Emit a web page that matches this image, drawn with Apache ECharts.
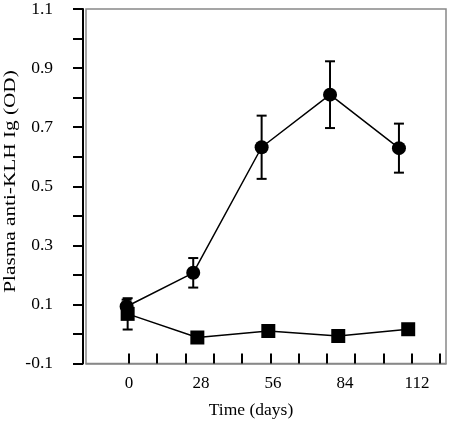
<!DOCTYPE html>
<html>
<head>
<meta charset="utf-8">
<script src="https://cdn.jsdelivr.net/npm/echarts@6/dist/echarts.min.js"></script>
<style>
html,body{margin:0;padding:0;background:#fff;}
#chart{width:452px;height:422px;}
</style>
</head>
<body>
<div id="chart"></div>
<script>
// Data
var circleDays = [-0.9, 25.0, 51.6, 78.2, 105.0];
var circleValues = [0.093, 0.207, 0.632, 0.810, 0.629];
var circleErrors = [0.023, 0.050, 0.107, 0.113, 0.083];

var squareDays = [-0.5, 26.6, 54.2, 81.4, 108.6];
var squareValues = [0.068, -0.012, 0.010, -0.007, 0.016];
var squareErrors = [0.053, 0.015, 0.015, 0.015, 0.015];

var xLabelValues = [0, 28, 56, 84, 112];
var xTickValues = [0, 11, 22, 33, 44, 55, 66, 77, 88, 99, 110, 121];

var FONT = '"Liberation Serif", "Times New Roman", serif';

function pairs(xs, ys) {
  return xs.map(function (x, i) { return [x, ys[i]]; });
}
function errData(xs, ys, es) {
  return xs.map(function (x, i) { return [x, ys[i] - es[i], ys[i] + es[i]]; });
}
function renderErr(params, api) {
  var x = api.value(0);
  var lo = api.coord([x, api.value(1)]);
  var hi = api.coord([x, api.value(2)]);
  var hw = 5;
  var st = { stroke: '#000', lineWidth: 2 };
  return {
    type: 'group',
    children: [
      { type: 'line', shape: { x1: lo[0], y1: lo[1], x2: hi[0], y2: hi[1] }, style: st },
      { type: 'line', shape: { x1: lo[0] - hw, y1: lo[1], x2: lo[0] + hw, y2: lo[1] }, style: st },
      { type: 'line', shape: { x1: hi[0] - hw, y1: hi[1], x2: hi[0] + hw, y2: hi[1] }, style: st }
    ]
  };
}

var chart = echarts.init(document.getElementById('chart'), null, { renderer: 'canvas' });
chart.setOption({
  animation: false,
  backgroundColor: '#fff',
  grid: {
    left: 86, right: 6, top: 4, bottom: 58.5,
    show: true, borderColor: '#888', borderWidth: 1.5, backgroundColor: 'transparent'
  },
  xAxis: {
    type: 'value',
    position: 'bottom',
    min: -16.7, max: 123.3,
    axisLine: { show: true, onZero: false, lineStyle: { color: '#888', width: 1.5 } },
    axisTick: { show: true, inside: true, length: 10, lineStyle: { color: '#000', width: 2 }, customValues: xTickValues },
    axisLabel: { customValues: xLabelValues, margin: 12, color: '#000', fontFamily: FONT, fontSize: 17 },
    splitLine: { show: false }
  },
  yAxis: {
    type: 'value',
    position: 'left',
    min: -0.1, max: 1.1, interval: 0.1,
    offset: 3,
    axisLine: { show: true, onZero: false, lineStyle: { color: '#000', width: 2 } },
    axisTick: { show: true, inside: false, length: 10, lineStyle: { color: '#000', width: 2 } },
    axisLabel: {
      margin: 30, color: '#000', fontFamily: FONT, fontSize: 17.5,
      padding: [8, 0, 0, 0],
      formatter: function (v) {
        var k = Math.round(v * 10);
        return Math.abs(k) % 2 === 1 ? (k / 10).toFixed(1) : '';
      }
    },
    splitLine: { show: false }
  },
  graphic: [
    {
      type: 'text', x: 11, y: 181.5, rotation: Math.PI / 2, scaleX: 1.25,
      style: { text: 'Plasma anti-KLH Ig (OD)', fontFamily: FONT, fontSize: 17, fill: '#000', align: 'center', verticalAlign: 'middle' }
    },
    {
      type: 'text', x: 251, y: 410,
      style: { text: 'Time (days)', fontFamily: FONT, fontSize: 17.5, fill: '#000', align: 'center', verticalAlign: 'middle' }
    }
  ],
  series: [
    {
      type: 'custom', renderItem: renderErr, data: errData(squareDays, squareValues, squareErrors),
      encode: { x: 0, y: [1, 2] }, z: 1, silent: true
    },
    {
      type: 'custom', renderItem: renderErr, data: errData(circleDays, circleValues, circleErrors),
      encode: { x: 0, y: [1, 2] }, z: 1, silent: true
    },
    {
      type: 'line', data: pairs(squareDays, squareValues), symbol: 'rect', symbolSize: 14,
      itemStyle: { color: '#000' }, lineStyle: { color: '#000', width: 1.5 }, z: 3
    },
    {
      type: 'line', data: pairs(circleDays, circleValues), symbol: 'circle', symbolSize: 14,
      itemStyle: { color: '#000' }, lineStyle: { color: '#000', width: 1.5 }, z: 4
    }
  ]
});
</script>
</body>
</html>
